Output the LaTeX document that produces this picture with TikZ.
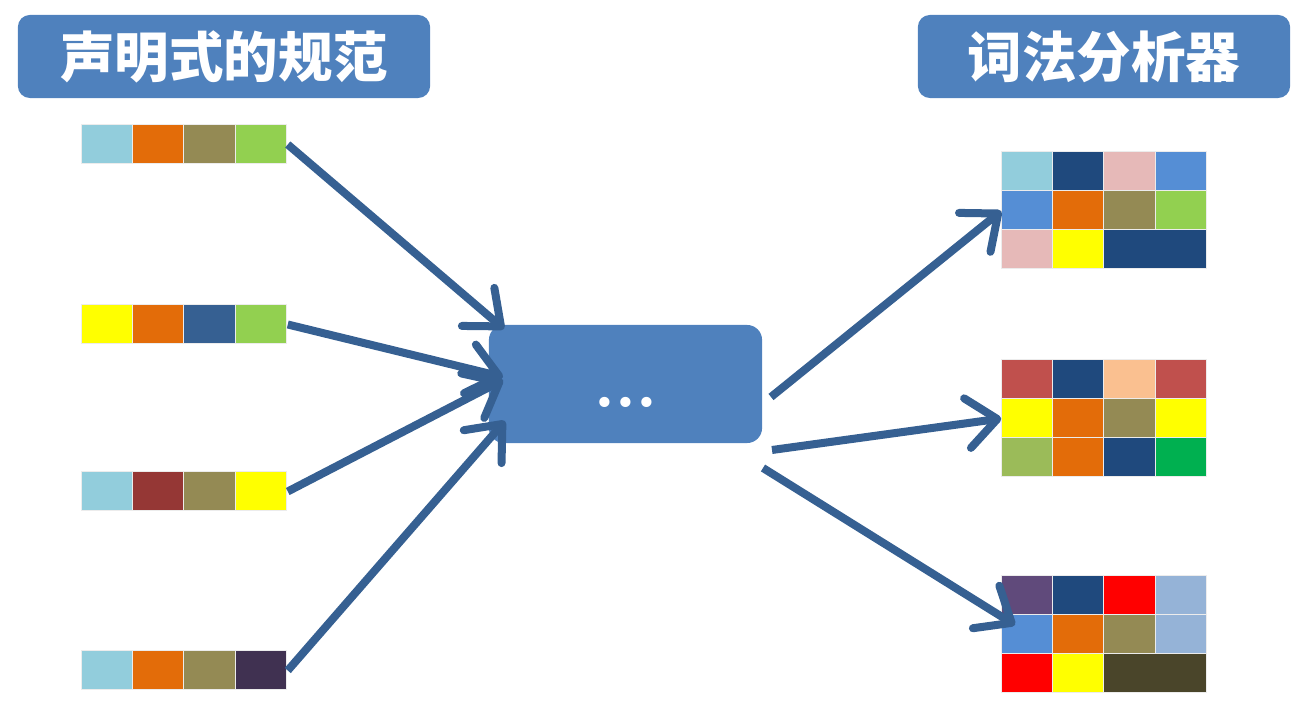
\documentclass[tikz,border=0pt]{standalone}
\usepackage{fontspec}
\newfontfamily\cjk{Noto Sans CJK SC}
\newfontfamily\dotfont{DejaVu Sans}
\usetikzlibrary{positioning,arrows.meta}

\definecolor{boxblue}{HTML}{4F81BD}
\definecolor{arrowblue}{HTML}{366092}
\definecolor{csky}{HTML}{92CDDC}
\definecolor{corange}{HTML}{E36C09}
\definecolor{colive}{HTML}{948A54}
\definecolor{cgreen}{HTML}{92D050}
\definecolor{cyellow}{HTML}{FFFF00}
\definecolor{cblue}{HTML}{366092}
\definecolor{cwine}{HTML}{953735}
\definecolor{cplum}{HTML}{403151}
\definecolor{cnavy}{HTML}{1F497D}
\definecolor{cpink}{HTML}{E6B9B8}
\definecolor{cmid}{HTML}{558ED5}
\definecolor{cred}{HTML}{C0504D}
\definecolor{cpeach}{HTML}{FAC090}
\definecolor{cleaf}{HTML}{9BBB59}
\definecolor{cjade}{HTML}{00B050}
\definecolor{cviolet}{HTML}{604A7B}
\definecolor{cpure}{HTML}{FF0000}
\definecolor{cpale}{HTML}{95B3D7}
\definecolor{cmud}{HTML}{4A452A}

\tikzset{
  titlebox/.style={fill=boxblue, rounded corners=0.12cm, text=white,
    font=\cjk\bfseries\fontsize{15.5}{18}\selectfont, minimum height=0.83cm, inner sep=0pt},
  strip/.style={minimum width=2.05cm, minimum height=0.39cm, inner sep=0pt},
  grid/.style={minimum width=2.05cm, minimum height=1.17cm, inner sep=0pt},
  cell/.style={fill=#1, draw=white!85!gray, line width=0.3pt},
  flow/.style={draw=arrowblue, line width=0.08cm,
    -{Straight Barb[length=0.3cm, width=0.5cm, round]}},
}

\begin{document}
\begin{tikzpicture}[x=0.01cm, y=-0.01cm]
    \useasboundingbox (0,0) rectangle (1308,713);
    % titles
    \node[titlebox, minimum width=4.12cm] (spec) at (224,56.5) {声明式的规范};
    \node[titlebox, minimum width=3.72cm] (lexer) at (1104,56.5) {词法分析器};
    % middle box
    \node[fill=boxblue, rounded corners=0.15cm, minimum width=2.73cm, minimum height=1.18cm, inner sep=0pt] (box) at (625.5,384) {};
    \node[text=white, font=\dotfont\fontsize{10}{11}\selectfont, inner sep=0pt] (dots) at (626,406) {•••};

    % input strips
    \node[strip] (s1) at (184.5,144.5) {};
    \node[strip] (s2) at (184.5,324.5) {};
    \node[strip] (s3) at (184.5,491.5) {};
    \node[strip] (s4) at (184.5,670.5) {};
    \foreach \c [count=\i from 0] in {csky,corange,colive,cgreen}
        {\fill[cell=\c] ([xshift=\i*0.5125cm]s1.north west) rectangle ++(51.25,39);}
    \foreach \c [count=\i from 0] in {cyellow,corange,cblue,cgreen}
        {\fill[cell=\c] ([xshift=\i*0.5125cm]s2.north west) rectangle ++(51.25,39);}
    \foreach \c [count=\i from 0] in {csky,cwine,colive,cyellow}
        {\fill[cell=\c] ([xshift=\i*0.5125cm]s3.north west) rectangle ++(51.25,39);}
    \foreach \c [count=\i from 0] in {csky,corange,colive,cplum}
        {\fill[cell=\c] ([xshift=\i*0.5125cm]s4.north west) rectangle ++(51.25,39);}

    % output grids
    \node[grid] (g1) at (1104.5,211) {};
    \node[grid] (g2) at (1104.5,418.5) {};
    \node[grid] (g3) at (1104.5,634.5) {};
    \foreach \x/\y/\w/\c in {0/0/1/csky,1/0/1/cnavy,2/0/1/cpink,3/0/1/cmid,
                             0/1/1/cmid,1/1/1/corange,2/1/1/colive,3/1/1/cgreen,
                             0/2/1/cpink,1/2/1/cyellow,2/2/2/cnavy}
        {\fill[cell=\c] ([xshift=\x*0.5125cm,yshift=-\y*0.39cm]g1.north west) rectangle ++(\w*51.25,39);}
    \foreach \x/\y/\w/\c in {0/0/1/cred,1/0/1/cnavy,2/0/1/cpeach,3/0/1/cred,
                             0/1/1/cyellow,1/1/1/corange,2/1/1/colive,3/1/1/cyellow,
                             0/2/1/cleaf,1/2/1/corange,2/2/1/cnavy,3/2/1/cjade}
        {\fill[cell=\c] ([xshift=\x*0.5125cm,yshift=-\y*0.39cm]g2.north west) rectangle ++(\w*51.25,39);}
    \foreach \x/\y/\w/\c in {0/0/1/cviolet,1/0/1/cnavy,2/0/1/cpure,3/0/1/cpale,
                             0/1/1/cmid,1/1/1/corange,2/1/1/colive,3/1/1/cpale,
                             0/2/1/cpure,1/2/1/cyellow,2/2/2/cmud}
        {\fill[cell=\c] ([xshift=\x*0.5125cm,yshift=-\y*0.39cm]g3.north west) rectangle ++(\w*51.25,39);}

    % arrow ends on the middle box
    \coordinate (in1) at (504,329);
    \coordinate (in2) at (503,377);
    \coordinate (in3) at (503,380);
    \coordinate (in4) at (505,421);
    \coordinate (out1) at (771,397);
    \coordinate (out2) at (772,450);
    \coordinate (out3) at (763,468);
    \coordinate (hit3) at (1015,625);

    \draw[flow] (s1.east) -- (in1);
    \draw[flow] (s2.east) -- (in2);
    \draw[flow] (s3.east) -- (in3);
    \draw[flow] (s4.east) -- (in4);
    \draw[flow] (out1) -- (g1.west);
    \draw[flow] (out2) -- (g2.west);
    \draw[flow] (out3) -- (hit3);
\end{tikzpicture}
\end{document}
